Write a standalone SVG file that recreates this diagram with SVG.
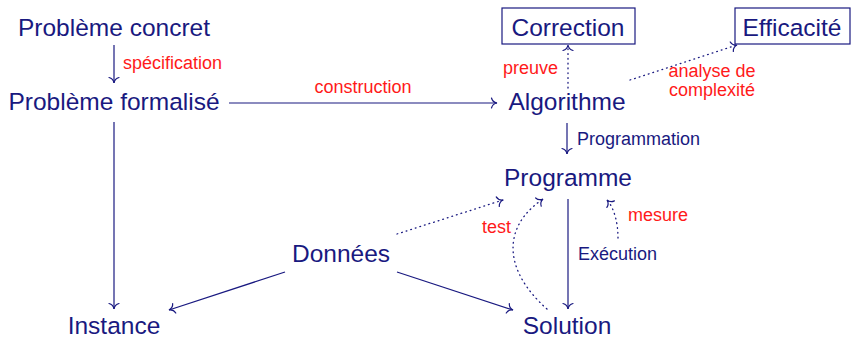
<svg xmlns="http://www.w3.org/2000/svg" width="852" height="339" viewBox="0 0 852 339">
<style>
.n{font-family:"Liberation Sans",Arial,sans-serif;font-size:24.5px;fill:#191980;text-anchor:middle}
.l{font-family:"Liberation Sans",Arial,sans-serif;font-size:18px;fill:#ff1a1a}
.lb{font-family:"Liberation Sans",Arial,sans-serif;font-size:18px;fill:#191980}
.c{fill:none;stroke:#191980;stroke-width:1.2}
.d{fill:none;stroke:#191980;stroke-width:1.3;stroke-dasharray:0.8 4;stroke-linecap:round}
.box{fill:#fff;stroke:#191980;stroke-width:1.2}
</style>
<defs>
<marker id="to" viewBox="-7 -6 9 12" markerUnits="userSpaceOnUse" markerWidth="9" markerHeight="12" refX="0" refY="0" orient="auto" overflow="visible">
<path d="M-5.5,-5 C-4.8,-2.2 -2.2,-0.4 0,0 C-2.2,0.4 -4.8,2.2 -5.5,5" fill="none" stroke="#191980" stroke-width="1.2" stroke-linecap="round"/>
</marker>
</defs>
<g id="connectors">
<path class="c" d="M114,45 L114,83" marker-end="url(#to)"/>
<path class="c" d="M229,103 L497,103" marker-end="url(#to)"/>
<path class="c" d="M114,122 L114,309" marker-end="url(#to)"/>
<path class="d" d="M568,88 L568,45" marker-end="url(#to)"/>
<path class="d" d="M630,80 L737,45" marker-end="url(#to)"/>
<path class="c" d="M567,123 L567,154" marker-end="url(#to)"/>
<path class="c" d="M568,199 L568,309" marker-end="url(#to)"/>
<path class="d" d="M618,238 C618,222 614,208 607,200" marker-end="url(#to)"/>
<path class="d" d="M547,309 C505,272 500,228 543,199" marker-end="url(#to)"/>
<path class="d" d="M397,234 L503,200" marker-end="url(#to)"/>
<path class="c" d="M397,272 L513,310" marker-end="url(#to)"/>
<path class="c" d="M285,272 L169,310" marker-end="url(#to)"/>
</g>
<g id="labels">
<text class="l" x="123" y="69">spécification</text>
<text class="l" x="363" y="93" text-anchor="middle">construction</text>
<text class="l" x="558" y="74" text-anchor="end">preuve</text>
<text class="l" x="712" y="77" text-anchor="middle">analyse de</text>
<text class="l" x="712" y="96" text-anchor="middle">complexité</text>
<text class="lb" x="577" y="145">Programmation</text>
<text class="lb" x="578" y="260">Exécution</text>
<text class="l" x="628" y="221">mesure</text>
<text class="l" x="482" y="233">test</text>
</g>
<g id="probleme-concret"><text class="n" x="114" y="36">Problème concret</text></g>
<g id="probleme-formalise"><text class="n" x="114" y="110">Problème formalisé</text></g>
<g id="algorithme"><text class="n" x="567" y="110">Algorithme</text></g>
<g id="correction"><rect class="box" x="502" y="8" width="133" height="36"/><text class="n" x="568" y="36">Correction</text></g>
<g id="efficacite"><rect class="box" x="735" y="8" width="115" height="36"/><text class="n" x="792" y="36">Efficacité</text></g>
<g id="programme"><text class="n" x="568" y="186">Programme</text></g>
<g id="donnees"><text class="n" x="341" y="262">Données</text></g>
<g id="instance"><text class="n" x="114" y="334">Instance</text></g>
<g id="solution"><text class="n" x="567" y="334">Solution</text></g>
</svg>
